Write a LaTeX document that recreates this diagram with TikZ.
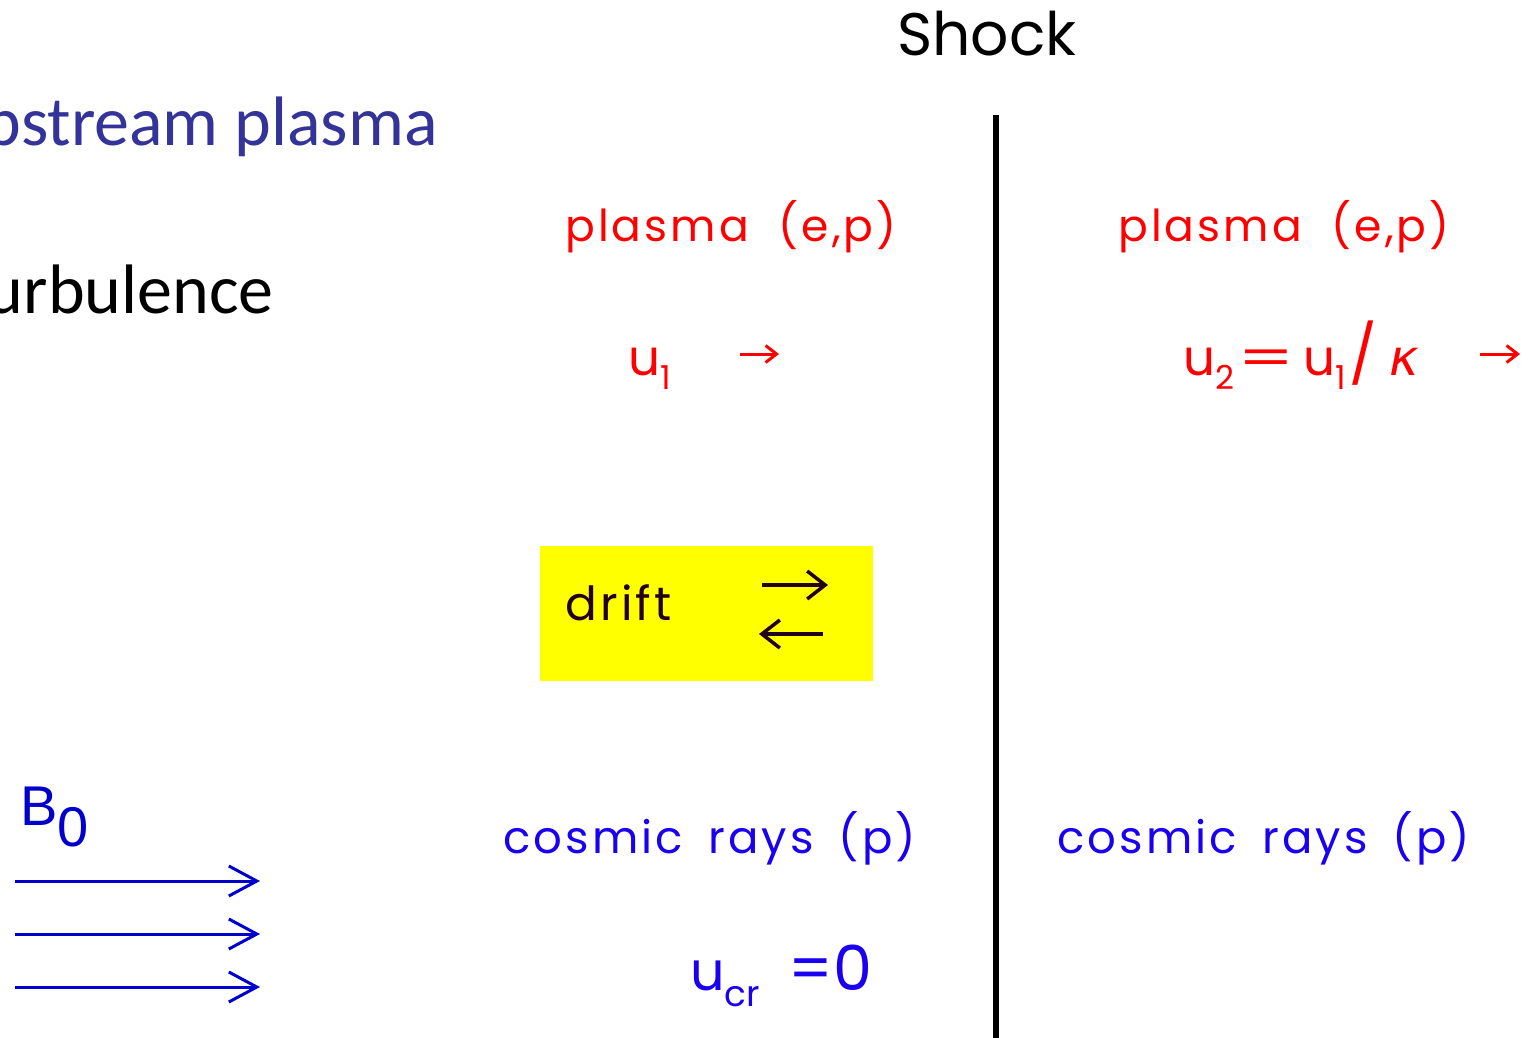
\documentclass[tikz,border=0pt]{standalone}
\usepackage{fontspec}
\setmainfont{Poppins}
\newfontfamily\widefont[LetterSpace=7]{Poppins}
\newfontfamily\calibrifont{Carlito}
\newfontfamily\arialfont{Liberation Sans}
\newfontfamily\greekfont{DejaVu Sans}
\usetikzlibrary{arrows.meta, positioning}
\definecolor{upblue}{HTML}{333399}
\definecolor{plasmared}{HTML}{FF0000}
\definecolor{crblue}{HTML}{1A00F0}
\definecolor{fieldblue}{HTML}{0000CC}
\definecolor{driftink}{HTML}{22001A}
\definecolor{driftyellow}{HTML}{FFFF00}
\newcommand{\sub}[3]{\raisebox{-#2pt}{\fontsize{#1}{#1}\selectfont #3}}

\begin{document}
\begin{tikzpicture}[x=1pt, y=-1pt,
    txt/.style={inner sep=0pt, anchor=base west},
    redtxt/.style={txt, text=plasmared, font=\widefont\fontsize{44}{50}\selectfont},
    cosmictxt/.style={txt, text=crblue, font=\widefont\fontsize{45}{50}\selectfont},
    smallarrow/.style={-{Straight Barb[length=11pt, width=17pt]}, line width=3pt, plasmared},
    driftarrow/.style={-{Straight Barb[length=18pt, width=28pt]}, line width=3.5pt, driftink},
    fieldarrow/.style={-{Straight Barb[length=28pt, width=30pt]}, line width=3pt, fieldblue}]
\useasboundingbox (0,0) rectangle (1533,1037);
\clip (0,0) rectangle (1533,1037);

% left-hand legend, cut by the frame
\node[inner sep=0pt, anchor=base east, text=upblue, font=\calibrifont\fontsize{70}{80}\selectfont] (upstream) at (438,145) {Upstream plasma};
\node[inner sep=0pt, anchor=base east, font=\calibrifont\fontsize{70}{80}\selectfont] (turb) at (274,313) {Turbulence};

% shock front
\node[txt, font=\fontsize{60}{70}\selectfont] (shock) at (897,55) {Shock};
\coordinate (shocktop) at (996,115);
\coordinate (shockbot) at (996,1040);
\draw[line width=6pt] (shocktop) -- (shockbot);

% plasma on both sides
\node[redtxt] (plasmaL) at (565,241) {plasma\ \ (e,p)};
\node[redtxt] (plasmaR) at (1118,241) {plasma\ \ (e,p)};
\node[redtxt, font=\widefont\fontsize{50}{56}\selectfont] (uone) at (628,375) {u\sub{33}{14}{1}};
\node[redtxt, font=\widefont\fontsize{50}{56}\selectfont] (utwo) at (1183,375)
  {u\sub{33}{14}{2}\hspace{3pt}\scalebox{1.6}[1]{=}\hspace{8pt}u\sub{33}{14}{1}\hspace{4pt}{\fontsize{58}{60}\selectfont/}\hspace{12pt}{\greekfont\itshape\fontsize{50}{50}\selectfont κ}};
\coordinate (uoneA) at (740,354);
\coordinate (uoneB) at (779,354);
\coordinate (utwoA) at (1480,354);
\coordinate (utwoB) at (1520,354);
\draw[smallarrow] (uoneA) -- (uoneB);
\draw[smallarrow] (utwoA) -- (utwoB);

% drift box
\node[fill=driftyellow, inner sep=0pt, minimum width=333pt, minimum height=135pt] (driftbox) at (706.5,613.5) {};
\node[txt, text=driftink, font=\widefont\fontsize{47}{54}\selectfont] (drift) at (565,620) {drift};
\coordinate (rightA) at (762,585);
\coordinate (rightB) at (828,585);
\coordinate (leftA) at (823,634);
\coordinate (leftB) at (759,634);
\draw[driftarrow] (rightA) -- (rightB);
\draw[driftarrow] (leftA) -- (leftB);

% cosmic rays
\node[cosmictxt] (crL) at (503,853) {cosmic\hspace{25pt}rays\hspace{25pt}(p)};
\node[cosmictxt] (crR) at (1057,853) {cosmic\hspace{25pt}rays\hspace{25pt}(p)};
\node[txt, text=crblue, font=\fontsize{54}{60}\selectfont] (ucr) at (690,990) {u\sub{36}{16}{cr}\ \ \fontsize{62}{66}\selectfont=0};

% background field
\node[txt, text=fieldblue, font=\arialfont\fontsize{56}{60}\selectfont] (bzero) at (20,825) {B\raisebox{-21pt}{0}};
\foreach \y/\nm in {881/a, 934/b, 987/c} {
  \coordinate (field\nm A) at (15,\y);
  \coordinate (field\nm B) at (260,\y);
  \draw[fieldarrow] (field\nm A) -- (field\nm B);
}
\end{tikzpicture}
\end{document}
